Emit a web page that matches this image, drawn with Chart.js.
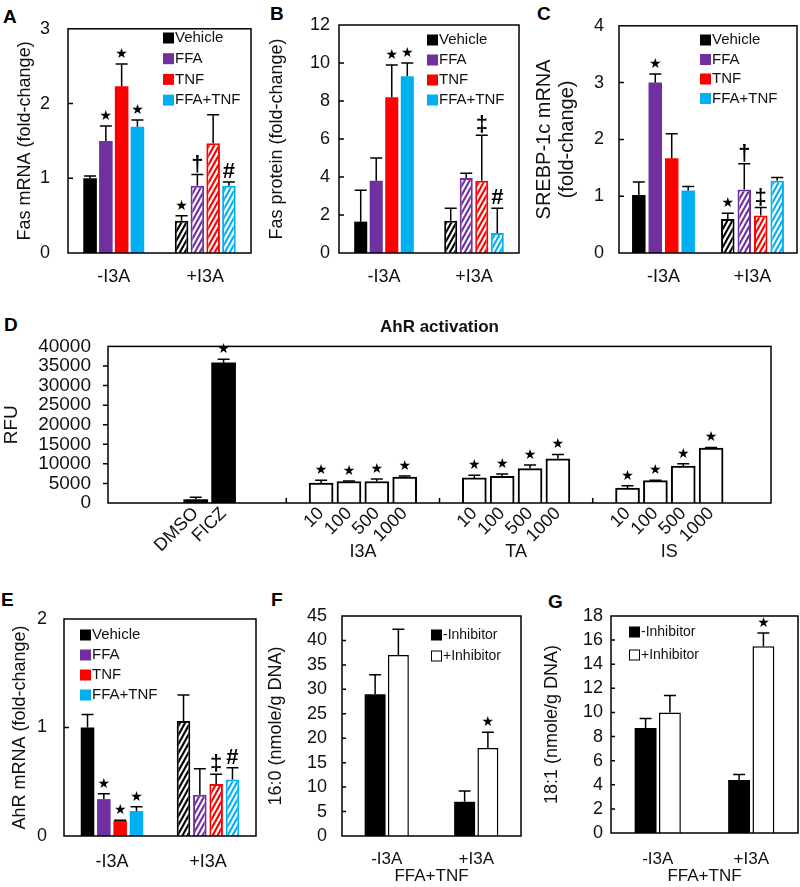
<!DOCTYPE html>
<html>
<head>
<meta charset="utf-8">
<script src="https://cdn.jsdelivr.net/npm/chart.js@4.4.0/dist/chart.umd.min.js"></script>
<style>
  body { margin: 0; background: #fff; width: 800px; height: 887px; position: relative; overflow: hidden; }
  canvas { position: absolute; }
  .lab { position: absolute; font: bold 19px 'Liberation Sans', Arial, sans-serif; line-height: 1; }
</style>
</head>
<body>
<div class="lab" style="left:3px;top:7px">A</div>
<div class="lab" style="left:270px;top:4px">B</div>
<div class="lab" style="left:537px;top:4px">C</div>
<div class="lab" style="left:4px;top:315px">D</div>
<div class="lab" style="left:1px;top:590px">E</div>
<div class="lab" style="left:271px;top:590px">F</div>
<div class="lab" style="left:548px;top:592px">G</div>
<script>
// ---- data ----
const groups = ['-I3A', '+I3A'];
const treatments = ['Vehicle', 'FFA', 'TNF', 'FFA+TNF'];
const treatColors = ['#000000', '#7030a0', '#ff0000', '#00b0f0'];

// each row = one treatment, [-I3A, +I3A]
const fasMrna = [[1.0, 0.43], [1.5, 0.9], [2.23, 1.47], [1.69, 0.9]];
const fasMrnaSd = [[0.03, 0.07], [0.2, 0.15], [0.3, 0.38], [0.09, 0.05]];
const fasMrnaMarks = [['', '★'], ['★', '†'], ['★', ''], ['★', '#']];

const fasProt = [[1.65, 1.7], [3.8, 3.95], [8.2, 3.8], [9.3, 1.05]];
const fasProtSd = [[1.65, 0.65], [1.2, 0.25], [1.7, 2.4], [0.7, 1.3]];
const fasProtMarks = [['', ''], ['', ''], ['★', '‡'], ['★', '#']];

const srebp = [[1.02, 0.6], [3.0, 1.12], [1.67, 0.66], [1.1, 1.27]];
const srebpSd = [[0.23, 0.1], [0.15, 0.45], [0.43, 0.14], [0.07, 0.06]];
const srebpMarks = [['', '★'], ['★', '†'], ['', '‡'], ['', '']];

const ahrMrna = [[1.0, 1.06], [0.34, 0.38], [0.14, 0.48], [0.23, 0.52]];
const ahrMrnaSd = [[0.12, 0.24], [0.05, 0.24], [0.005, 0.09], [0.04, 0.11]];
const ahrMrnaMarks = [['', ''], ['★', ''], ['★', '‡'], ['★', '#']];

// AhR activation (RFU)
const ahrGroups = ['', 'I3A', 'TA', 'IS'];
const ahrLabels = [['DMSO', 'FICZ'], ['10', '100', '500', '1000'], ['10', '100', '500', '1000'], ['10', '100', '500', '1000']];
const ahrRfu = [[900, 35800], [5100, 5500, 5500, 6600], [6400, 6800, 8800, 11300], [3800, 5700, 9400, 14000]];
const ahrRfuSd = [[600, 900], [700, 100, 600, 300], [700, 600, 900, 1100], [600, 100, 600, 200]];
const ahrRfuMarks = [['', '★'], ['★', '★', '★', '★'], ['★', '★', '★', '★'], ['★', '★', '★', '★']];

const inhibitors = ['-Inhibitor', '+Inhibitor'];
const fa160 = [[29, 7], [37, 18]];
const fa160Sd = [[4, 2.2], [5.3, 3.2]];
const fa160Marks = [['', ''], ['', '★']];
const fa181 = [[8.7, 4.4], [10, 15.5]];
const fa181Sd = [[0.8, 0.45], [1.4, 1.1]];
const fa181Marks = [['', ''], ['', '★']];

// ---- setup ----
const FONT = "'Liberation Sans', Arial, sans-serif";
Chart.defaults.font.family = FONT;
Chart.defaults.color = '#111';
Chart.defaults.plugins.legend.display = false;
Chart.defaults.plugins.tooltip.enabled = false;

// steep diagonal hatch for the +I3A bars
function hatch(color) {
    const w = 5, h = 9;
    const c = document.createElement('canvas');
    c.width = w; c.height = h;
    const x = c.getContext('2d');
    x.fillStyle = '#fff';
    x.fillRect(0, 0, w, h);
    x.strokeStyle = color;
    x.lineWidth = 2.1;
    x.beginPath();
    x.moveTo(0, h); x.lineTo(w, 0);
    x.moveTo(-w, h); x.lineTo(w, -h);
    x.moveTo(0, 2 * h); x.lineTo(2 * w, 0);
    x.stroke();
    return x.createPattern(c, 'repeat');
}

// error bars, significance marks, frame, legend, etc.
const extras = {
    id: 'extras',
    afterDatasetsDraw(chart, args, o) {
        const ctx = chart.ctx, ys = chart.scales.y;
        ctx.save();
        chart.data.datasets.forEach((ds, di) => {
            chart.getDatasetMeta(di).data.forEach((bar, i) => {
                const raw = ds.data[i];
                const v = typeof raw === 'object' ? raw.y : raw;
                const top = ys.getPixelForValue(v + ds.sd[i]);
                ctx.strokeStyle = '#000';
                ctx.lineWidth = 1.5;
                ctx.beginPath();
                ctx.moveTo(bar.x, bar.y);
                ctx.lineTo(bar.x, top);
                ctx.moveTo(bar.x - o.cap, top);
                ctx.lineTo(bar.x + o.cap, top);
                ctx.stroke();
                const m = ds.marks[i];
                if (m) {
                    ctx.fillStyle = '#000';
                    ctx.textAlign = 'center';
                    ctx.textBaseline = 'alphabetic';
                    if (m === '★') {
                        ctx.font = "14px 'DejaVu Sans'";
                        ctx.fillText(m, bar.x, top - 6);
                    } else {
                        ctx.font = 'bold 22px ' + FONT;
                        ctx.fillText(m, bar.x, top - 4);
                    }
                }
            });
        });
        ctx.restore();
    },
    afterDraw(chart, args, o) {
        const ctx = chart.ctx, a = chart.chartArea, ys = chart.scales.y;
        ctx.save();
        ctx.strokeStyle = '#000';
        ctx.lineWidth = 1.5;
        if (o.frame) ctx.strokeRect(a.left, a.top, a.right - a.left, a.bottom - a.top);
        // y tick marks
        ctx.beginPath();
        ys.ticks.forEach((t, i) => {
            if (i === 0 || i === ys.ticks.length - 1) return;
            const py = ys.getPixelForValue(t.value);
            ctx.moveTo(a.left, py);
            ctx.lineTo(a.left + o.yTick, py);
        });
        ctx.stroke();
        // legend
        if (o.legend) {
            const L = o.legend;
            ctx.font = L.font;
            ctx.textBaseline = 'middle';
            ctx.textAlign = 'left';
            chart.data.datasets.forEach((ds, k) => {
                const x = L.x - o.ox, y = L.y + k * L.dy - o.oy;
                if (ds.hollow) {
                    ctx.fillStyle = '#fff';
                    ctx.lineWidth = 1;
                    ctx.fillRect(x, y - L.size / 2, L.size, L.size);
                    ctx.strokeRect(x + 0.5, y - L.size / 2 + 0.5, L.size - 1, L.size - 1);
                } else {
                    ctx.fillStyle = ds.legendColor;
                    ctx.fillRect(x, y - L.size / 2, L.size, L.size);
                }
                ctx.fillStyle = '#111';
                ctx.fillText(ds.label, x + L.size + 1, y);
            });
        }
        // title
        if (o.title) {
            ctx.font = 'bold 17px ' + FONT;
            ctx.fillStyle = '#111';
            ctx.textAlign = 'center';
            ctx.textBaseline = 'middle';
            ctx.fillText(o.title.text, (a.left + a.right) / 2, o.title.y - o.oy);
        }
        // group labels and separator ticks under the x axis
        if (o.groupLabels) {
            const xs = chart.scales.x;
            ctx.font = '18px ' + FONT;
            ctx.fillStyle = '#111';
            ctx.textAlign = 'center';
            ctx.textBaseline = 'middle';
            o.groupLabels.names.forEach((n, g) => {
                if (n) ctx.fillText(n, xs.getPixelForValue(o.groupLabels.centers[g]), o.groupLabels.y - o.oy);
            });
            ctx.beginPath();
            o.sepTicks.forEach(v => {
                const px = xs.getPixelForValue(v);
                ctx.moveTo(px, a.bottom);
                ctx.lineTo(px, a.bottom - 5);
            });
            ctx.stroke();
        }
        ctx.restore();
    }
};

function build(c) {
    const [bx, by, bw, bh] = c.box;
    const [pl, pt, pr, pb] = c.plot;
    const cv = document.createElement('canvas');
    cv.width = bw;
    cv.height = bh;
    cv.style.left = bx + 'px';
    cv.style.top = by + 'px';
    document.body.appendChild(cv);
    const noGrid = { grid: { display: false, drawTicks: false }, border: { display: false } };
    return new Chart(cv, {
        type: 'bar',
        data: c.data,
        options: {
            responsive: false,
            animation: false,
            devicePixelRatio: 1,
            layout: { padding: { left: 0, top: pt - by, right: bx + bw - pr, bottom: 0 } },
            scales: {
                x: Object.assign({}, noGrid, c.x, { afterFit: s => { s.height = by + bh - pb; } }),
                y: Object.assign({}, noGrid, c.y, { afterFit: s => { s.width = pl - bx; } })
            },
            plugins: { extras: Object.assign({ ox: bx, oy: by, cap: 6, yTick: 5, frame: true }, c.extras) }
        },
        plugins: [extras]
    });
}

function treatSets(vals, sds, marks, cat, bar) {
    return treatments.map((t, k) => ({
        label: t,
        data: vals[k],
        sd: sds[k],
        marks: marks[k],
        backgroundColor: [treatColors[k], hatch(treatColors[k])],
        borderColor: treatColors[k],
        borderWidth: [0, 2],
        legendColor: treatColors[k],
        categoryPercentage: cat,
        barPercentage: bar
    }));
}

function inhSets(vals, sds, marks) {
    return inhibitors.map((t, k) => ({
        label: t,
        data: vals[k],
        sd: sds[k],
        marks: marks[k],
        backgroundColor: k ? '#fff' : '#000',
        borderColor: '#000',
        borderWidth: k ? 1.5 : 0,
        legendColor: '#000',
        hollow: k === 1,
        categoryPercentage: 0.52,
        barPercentage: 0.9
    }));
}

function yTicks(step, pad, size) {
    return { stepSize: step, padding: pad, autoSkip: false, font: { size: size }, callback: v => String(v) };
}

const tick18 = { size: 18 };
const legendFont = '15px ' + FONT;

// A
build({
    box: [0, 0, 265, 300], plot: [68, 23, 251, 253],
    data: { labels: groups, datasets: treatSets(fasMrna, fasMrnaSd, fasMrnaMarks, 0.69, 0.86) },
    x: { ticks: { padding: 13, font: tick18 } },
    y: { min: 0, max: 3, ticks: yTicks(1, 18, 18),
         title: { display: true, text: 'Fas mRNA (fold-change)', font: { size: 18 }, padding: { top: 14, bottom: 0 } } },
    extras: { legend: { x: 163, y: 38, dy: 20.7, size: 11, font: legendFont } }
});

// B
build({
    box: [265, 0, 265, 300], plot: [339, 25, 519, 253],
    data: { labels: groups, datasets: treatSets(fasProt, fasProtSd, fasProtMarks, 0.69, 0.84) },
    x: { ticks: { padding: 13, font: tick18 } },
    y: { min: 0, max: 12, ticks: yTicks(2, 9, 18),
         title: { display: true, text: 'Fas protein (fold-change)', font: { size: 18 }, padding: { top: 1, bottom: 0 } } },
    extras: { legend: { x: 427, y: 40, dy: 20, size: 11, font: legendFont } }
});

// C
build({
    box: [530, 0, 270, 300], plot: [619, 23, 797, 253],
    data: { labels: groups, datasets: treatSets(srebp, srebpSd, srebpMarks, 0.74, 0.82) },
    x: { ticks: { padding: 13, font: tick18 } },
    y: { min: 0, max: 4, ticks: yTicks(1, 15, 18),
         title: { display: true, text: ['SREBP-1c mRNA', '(fold-change)'], font: { size: 20, lineHeight: 1.15 }, padding: { top: 3, bottom: 0 } } },
    extras: { legend: { x: 700, y: 40, dy: 19.5, size: 11, font: legendFont } }
});

// D: bars sit on a linear x axis, one unit per bar slot
const ahrGroupStart = [0, 4.5, 10, 15.5];
const ahrX = [], ahrTickText = [], ahrPoints = [], ahrSdFlat = [], ahrMarksFlat = [], ahrFill = [], ahrBorder = [];
ahrLabels.forEach((labs, g) => {
    labs.forEach((lab, i) => {
        const x = ahrGroupStart[g] + i;
        ahrX.push(x);
        ahrTickText.push(lab);
        ahrPoints.push({ x: x, y: ahrRfu[g][i] });
        ahrSdFlat.push(ahrRfuSd[g][i]);
        ahrMarksFlat.push(ahrRfuMarks[g][i]);
        ahrFill.push(g === 0 ? '#000' : '#fff');
        ahrBorder.push(g === 0 ? 0 : 2);
    });
});
const ahrCenters = ahrLabels.map((labs, g) => ahrGroupStart[g] + (labs.length - 1) / 2);

build({
    box: [0, 318, 800, 250], plot: [108, 337, 771, 503],
    data: { datasets: [{ label: 'RFU', data: ahrPoints, sd: ahrSdFlat, marks: ahrMarksFlat,
        backgroundColor: ahrFill, borderColor: '#000', borderWidth: ahrBorder, barThickness: 24 }] },
    x: { type: 'linear', min: -2.3, max: 19.8,
         afterBuildTicks: s => { s.ticks = ahrX.map(v => ({ value: v })); },
         ticks: { autoSkip: false, minRotation: 45, maxRotation: 45, padding: 0, font: { size: 18 },
                  callback: (v, i) => ahrTickText[i] } },
    y: { min: 0, max: 40000, ticks: yTicks(5000, 17, 19),
         title: { display: true, text: 'RFU', font: { size: 19 }, padding: { top: 0, bottom: 0 } } },
    extras: { yTick: -5, title: { text: 'AhR activation', y: 327 },
              groupLabels: { names: ahrGroups, centers: ahrCenters, y: 552 },
              sepTicks: ahrGroupStart.slice(1).map(v => v - 1.25) }
});

// E
build({
    box: [0, 570, 265, 317], plot: [64, 619, 256, 836],
    data: { labels: groups, datasets: treatSets(ahrMrna, ahrMrnaSd, ahrMrnaMarks, 0.68, 0.83) },
    x: { ticks: { padding: 15, font: tick18 } },
    y: { min: 0, max: 2, ticks: yTicks(1, 17, 18),
         title: { display: true, text: 'AhR mRNA (fold-change)', font: { size: 18 }, padding: { top: 9, bottom: 0 } } },
    extras: { legend: { x: 80, y: 635, dy: 20, size: 11, font: legendFont } }
});

// F
build({
    box: [265, 570, 270, 317], plot: [342, 616, 521, 836],
    data: { labels: groups, datasets: inhSets(fa160, fa160Sd, fa160Marks) },
    x: { ticks: { padding: 13, font: { size: 17 } },
         title: { display: true, text: 'FFA+TNF', font: { size: 17 }, padding: { top: 0, bottom: 0 } } },
    y: { min: 0, max: 45, ticks: yTicks(5, 15, 18),
         title: { display: true, text: '16:0 (nmole/g DNA)', font: { size: 18 }, padding: { top: 0, bottom: 0 } } },
    extras: { yTick: 4, legend: { x: 431, y: 635, dy: 21, size: 11, font: '14px ' + FONT } }
});

// G
build({
    box: [535, 570, 265, 317], plot: [611, 616, 798, 833],
    data: { labels: groups, datasets: inhSets(fa181, fa181Sd, fa181Marks) },
    x: { ticks: { padding: 16, font: { size: 17 } },
         title: { display: true, text: 'FFA+TNF', font: { size: 17 }, padding: { top: 0, bottom: 0 } } },
    y: { min: 0, max: 18, ticks: yTicks(2, 8, 18),
         title: { display: true, text: '18:1 (nmole/g DNA)', font: { size: 18 }, padding: { top: 6, bottom: 0 } } },
    extras: { yTick: 4, legend: { x: 629, y: 632, dy: 23, size: 11, font: '14px ' + FONT } }
});
</script>
</body>
</html>
